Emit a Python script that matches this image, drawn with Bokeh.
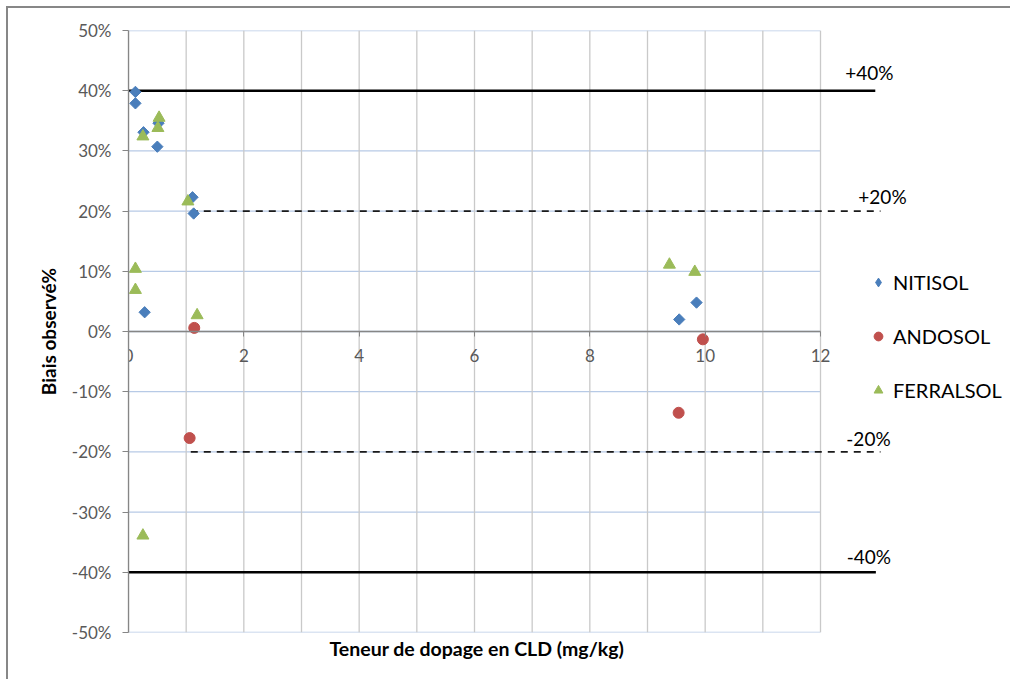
import math

from bokeh.core.properties import value
from bokeh.embed import file_html
from bokeh.models import (ColumnDataSource, FixedTicker, Legend, LegendItem,
                          NumeralTickFormatter, Range1d, Title)
from bokeh.plotting import figure
from bokeh.resources import INLINE

# Spiked CLD content (mg/kg) and observed bias (fraction) for each soil type
nitisol_x = [0.12, 0.12, 0.26, 0.52, 0.50, 1.11, 1.13, 0.28, 9.55, 9.85]
nitisol_y = [0.398, 0.379, 0.331, 0.346, 0.307, 0.223, 0.196, 0.032, 0.020, 0.048]

andosol_x = [1.14, 1.06, 9.96, 9.54]
andosol_y = [0.006, -0.177, -0.013, -0.135]

ferralsol_x = [0.53, 0.51, 0.25, 1.03, 0.12, 0.12, 1.19, 0.25, 9.38, 9.82]
ferralsol_y = [0.355, 0.338, 0.324, 0.216, 0.104, 0.069, 0.027, -0.339, 0.111, 0.099]

# Axis ticks
x_tick_labels = [0, 2, 4, 6, 8, 10, 12]
x_grid = list(range(0, 13))
y_ticks = [-0.5, -0.4, -0.3, -0.2, -0.1, 0.0, 0.1, 0.2, 0.3, 0.4, 0.5]

# Acceptance limits on the bias
limit_levels = [0.40, 0.20, -0.20, -0.40]
limit_labels = ["+40%", "+20%", "-20%", "-40%"]
limit_start = [0.0, 1.08, 1.08, 0.0]
limit_end = [12.95, 13.04, 13.04, 12.96]
limit_dashed = [False, True, True, False]

FONT = "Lato"
X_MAX = 12
X_VIEW_END = 884 / (692 / 12)   # frame continues past x=12 to hold the limit labels and legend

p = figure(width=1004, height=673, output_backend="svg", toolbar_location=None,
           x_range=Range1d(0, X_VIEW_END), y_range=Range1d(-0.5, 0.5),
           min_border_left=120, min_border_right=0, min_border_top=22, min_border_bottom=49)
p.outline_line_color = None
p.xgrid.visible = False
p.ygrid.visible = False
p.background_fill_color = "white"
p.border_fill_color = "white"
# thin grey frame around the chart area
p.styles = {"margin-left": "6px", "margin-top": "6px",
            "border-left": "2px solid #878787", "border-top": "2px solid #878787"}

# Gridlines limited to the 0..12 data area
p.segment(x0=[0] * len(y_ticks), x1=[X_MAX] * len(y_ticks), y0=y_ticks, y1=y_ticks,
          line_color="#b7cae6", line_width=1.3)
p.segment(x0=x_grid, x1=x_grid, y0=[-0.5] * len(x_grid), y1=[0.5] * len(x_grid),
          line_color="#c9c9c9", line_width=1.3)

# Y axis
yax = p.yaxis[0]
yax.ticker = FixedTicker(ticks=y_ticks)
yax.formatter = NumeralTickFormatter(format="0%")
yax.axis_line_color = "#868686"
yax.axis_line_width = 1.3
yax.major_tick_line_color = "#868686"
yax.major_tick_out = 6
yax.major_tick_in = 0
yax.minor_tick_line_color = None
yax.major_label_standoff = 11
yax.major_label_text_font = FONT
yax.major_label_text_font_size = "17px"
yax.major_label_text_color = "#595959"
yax.axis_label = "Biais observé%"
yax.axis_label_text_font = FONT
yax.axis_label_text_font_size = "19px"
yax.axis_label_text_font_style = "bold"
yax.axis_label_text_color = "#000000"
yax.axis_label_standoff = 9

# X axis crossing at 0 %
xax = p.xaxis[0]
xax.fixed_location = 0
xax.bounds = (0, X_MAX)
xax.ticker = FixedTicker(ticks=x_tick_labels, minor_ticks=x_grid)
xax.axis_line_color = "#868686"
xax.axis_line_width = 1.3
xax.major_tick_line_color = "#868686"
xax.major_tick_out = 5
xax.major_tick_in = 0
xax.minor_tick_line_color = None
xax.major_label_standoff = 12
xax.major_label_text_font = FONT
xax.major_label_text_font_size = "17px"
xax.major_label_text_color = "#595959"

# X axis title under the 0..12 plot area
p.add_layout(Title(text="Teneur de dopage en CLD (mg/kg)", align="left", offset=201,
                   text_font=FONT, text_font_size="19.5px", text_font_style="bold",
                   text_color="#000000", standoff=4), "below")

# Acceptance limit lines
for lvl, x0, x1, dashed in zip(limit_levels, limit_start, limit_end, limit_dashed):
    if dashed:
        p.segment(x0=[x0], x1=[x1], y0=[lvl], y1=[lvl], line_color="#1a1a1a",
                  line_width=1.8, line_dash="7 6")
    else:
        p.segment(x0=[x0], x1=[x1], y0=[lvl], y1=[lvl], line_color="#000000",
                  line_width=2.6)

label_src = ColumnDataSource(dict(x=limit_end, y=limit_levels, text=limit_labels,
                                  dx=[-6, 2, -12, -7], dy=[-18, -15, -13, -16]))
p.text(x="x", y="y", text="text", source=label_src, x_offset="dx", y_offset="dy",
       text_font=value(FONT), text_font_size="19px", text_color="#000000",
       text_align="center", text_baseline="middle")

# Data series
BLUE, RED, GREEN = "#4a7ebb", "#c0504d", "#9bbb59"
# diamond glyph under the NITISOL markers; it also supplies the legend swatch,
# since legend markers are drawn without rotation
r_nit_key = p.scatter(nitisol_x, nitisol_y, marker="diamond", size=9,
                      fill_color=BLUE, line_color=BLUE)
r_nit = p.scatter(nitisol_x, nitisol_y, marker="square", angle=math.pi / 4, size=8,
                  fill_color=BLUE, line_color=BLUE)
r_and = p.scatter(andosol_x, andosol_y, marker="circle", size=11,
                  fill_color=RED, line_color=RED)
r_fer = p.scatter(ferralsol_x, ferralsol_y, marker="triangle", size=12,
                  fill_color=GREEN, line_color=GREEN)

legend = Legend(items=[LegendItem(label="NITISOL", renderers=[r_nit_key]),
                       LegendItem(label="ANDOSOL", renderers=[r_and]),
                       LegendItem(label="FERRALSOL", renderers=[r_fer])],
                location=(739, 230), orientation="vertical", padding=0, margin=0,
                border_line_color=None, background_fill_alpha=0,
                glyph_width=22, glyph_height=24, label_height=24, spacing=30,
                label_standoff=4, label_text_font=FONT, label_text_font_size="20px",
                label_text_color="#000000")
p.add_layout(legend)

open("out.html", "w").write(file_html(p, INLINE))
